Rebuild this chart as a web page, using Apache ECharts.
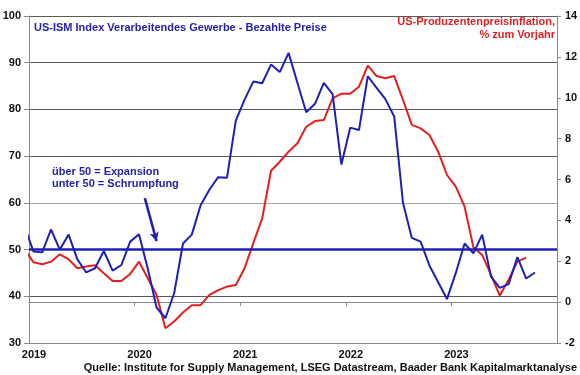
<!DOCTYPE html>
<html>
<head>
<meta charset="utf-8">
<script src="https://cdn.jsdelivr.net/npm/echarts@6/dist/echarts.min.js"></script>
<style>
  html, body { margin: 0; padding: 0; background: #fff; }
</style>
</head>
<body>
<!-- chart container -->
<div id="chart" style="width:580px; height:375px"></div>
<script>
// months (data points sit in the middle of each month)
var months = [
  "2018-12",
  "2019-01","2019-02","2019-03","2019-04","2019-05","2019-06","2019-07","2019-08","2019-09","2019-10","2019-11","2019-12",
  "2020-01","2020-02","2020-03","2020-04","2020-05","2020-06","2020-07","2020-08","2020-09","2020-10","2020-11","2020-12",
  "2021-01","2021-02","2021-03","2021-04","2021-05","2021-06","2021-07","2021-08","2021-09","2021-10","2021-11","2021-12",
  "2022-01","2022-02","2022-03","2022-04","2022-05","2022-06","2022-07","2022-08","2022-09","2022-10","2022-11","2022-12",
  "2023-01","2023-02","2023-03","2023-04","2023-05","2023-06","2023-07","2023-08","2023-09","2023-10"
];

// US-ISM prices paid (left axis)
var ismPrices = [
  54.9,
  49.6, 49.4, 54.3, 50.0, 53.2, 47.9, 45.1, 46.0, 49.7, 45.5, 46.7, 51.7,
  53.3, 45.9, 37.6, 35.3, 40.7, 51.3, 53.2, 59.5, 62.8, 65.5, 65.4, 77.6,
  82.1, 86.0, 85.6, 89.6, 88.0, 92.1, 85.7, 79.4, 81.2, 85.7, 83.3, 68.2,
  76.1, 75.6, 87.1, 84.6, 82.2, 78.5, 60.0, 52.5, 51.7, 46.6, 43.0, 39.4,
  45.0, 51.3, 49.2, 53.2, 44.2, 41.8, 42.6, 48.4, 43.8, 45.1
];

// US producer price inflation, % yoy (right axis)
var ppiYoy = [
  2.58,
  1.95, 1.85, 1.98, 2.34, 2.10, 1.66, 1.74, 1.80, 1.41, 1.03, 1.03, 1.38,
  1.98, 1.17, 0.35, -1.28, -0.95, -0.51, -0.15, -0.15, 0.35, 0.59, 0.76, 0.84,
  1.66, 2.9, 4.1, 6.43, 6.87, 7.36, 7.77, 8.58, 8.86, 8.91, 9.97, 10.2,
  10.2, 10.54, 11.57, 11.06, 10.95, 11.06, 9.89, 8.67, 8.5, 8.18, 7.36, 6.22,
  5.65, 4.67, 2.68, 2.31, 1.33, 0.32, 1.1, 1.98, 2.18
];

var yearTicks = [2019, 2020, 2021, 2022, 2023, 2024];

var FONT = "'Liberation Sans', Arial, sans-serif";
var BLUE = "#1f1fb4";
var RED = "#e41e1e";

// "2019-03" -> 2019 + 2.5/12
function toYear(m) {
  var p = m.split("-");
  return parseInt(p[0]) + (parseInt(p[1]) - 0.5) / 12;
}

var blueData = ismPrices.map(function (v, i) { return [toYear(months[i]), v]; });
var redData = ppiYoy.map(function (v, i) { return [toYear(months[i]), v]; });

var myChart = echarts.init(document.getElementById("chart"));

myChart.setOption({
  animation: false,
  grid: { left: 29, right: 23, top: 16, bottom: 32, outerBoundsMode: "none" },
  xAxis: {
    type: "value",
    min: yearTicks[0],
    max: yearTicks[yearTicks.length - 1],
    interval: 1,
    splitLine: { show: false },
    axisLine: { show: true, lineStyle: { color: "#8a8a8a", width: 1 } },
    axisTick: { show: true, length: 4, lineStyle: { color: "#8a8a8a" } },
    axisLabel: {
      showMaxLabel: false,
      margin: 6,
      padding: [0, 0, 0, 10],
      color: "#111",
      fontFamily: FONT,
      fontWeight: "bold",
      fontSize: 11,
      formatter: function (v) { return String(v); }
    }
  },
  yAxis: [
    {
      type: "value",
      min: 30,
      max: 100,
      interval: 10,
      axisLine: { show: true, lineStyle: { color: "#8a8a8a" } },
      axisTick: { show: true, length: 5, lineStyle: { color: "#8a8a8a" } },
      axisLabel: {
        margin: 8,
        color: "#111",
        fontFamily: FONT,
        fontWeight: "bold",
        fontSize: 11
      },
      splitLine: {
        show: true,
        lineStyle: {
          // 30,40,50,60,70,80,90,100
          color: ["#8a8a8a", "#5a5a5a", "#5a5a5a", "#a8a8a8", "#5a5a5a", "#5a5a5a", "#5a5a5a", "#5a5a5a"],
          width: 1
        }
      }
    },
    {
      type: "value",
      position: "right",
      min: -2,
      max: 14,
      interval: 2,
      axisLine: { show: true, lineStyle: { color: "#8a8a8a" } },
      axisTick: { show: true, length: 4, lineStyle: { color: "#8a8a8a" } },
      axisLabel: {
        margin: 8,
        color: "#111",
        fontFamily: FONT,
        fontWeight: "bold",
        fontSize: 11
      },
      splitLine: { show: false }
    }
  ],
  series: [
    {
      name: "PPI",
      type: "line",
      yAxisIndex: 1,
      data: redData,
      symbol: "none",
      clip: true,
      lineStyle: { color: RED, width: 2 },
      z: 3
    },
    {
      name: "ISM",
      type: "line",
      yAxisIndex: 0,
      data: blueData,
      symbol: "none",
      clip: true,
      lineStyle: { color: BLUE, width: 2 },
      z: 4,
      markLine: {
        silent: true,
        animation: false,
        label: { show: false },
        symbol: "none",
        data: [
          { yAxis: 50, lineStyle: { color: BLUE, width: 2.5, type: "solid" } },
          [
            { coord: [2020.097, 61.0], symbol: "none" },
            { coord: [2020.208, 51.8], symbol: "arrow", symbolSize: [7, 9] }
          ]
        ],
        lineStyle: { color: BLUE, width: 2.5, type: "solid" }
      }
    }
  ],
  graphic: [
    {
      type: "text",
      x: 34, y: 28,
      style: {
        text: "US-ISM Index Verarbeitendes Gewerbe - Bezahlte Preise",
        fill: "#2323b0",
        font: "bold 11px " + FONT,
        textVerticalAlign: "middle"
      }
    },
    {
      type: "text",
      x: 555, y: 28,
      style: {
        text: "US-Produzentenpreisinflation,\n% zum Vorjahr",
        fill: RED,
        font: "bold 11px " + FONT,
        textAlign: "right",
        textVerticalAlign: "middle",
        lineHeight: 13
      }
    },
    {
      type: "text",
      x: 52, y: 178,
      style: {
        text: "über 50 = Expansion\nunter 50 = Schrumpfung",
        fill: "#2323b0",
        font: "bold 11px " + FONT,
        textVerticalAlign: "middle",
        lineHeight: 12
      }
    },
    {
      type: "text",
      x: 577, y: 368,
      style: {
        text: "Quelle: Institute for Supply Management, LSEG Datastream, Baader Bank Kapitalmarktanalyse",
        fill: "#111",
        font: "bold 11px " + FONT,
        textAlign: "right",
        textVerticalAlign: "middle"
      }
    }
  ]
});
</script>
</body>
</html>
